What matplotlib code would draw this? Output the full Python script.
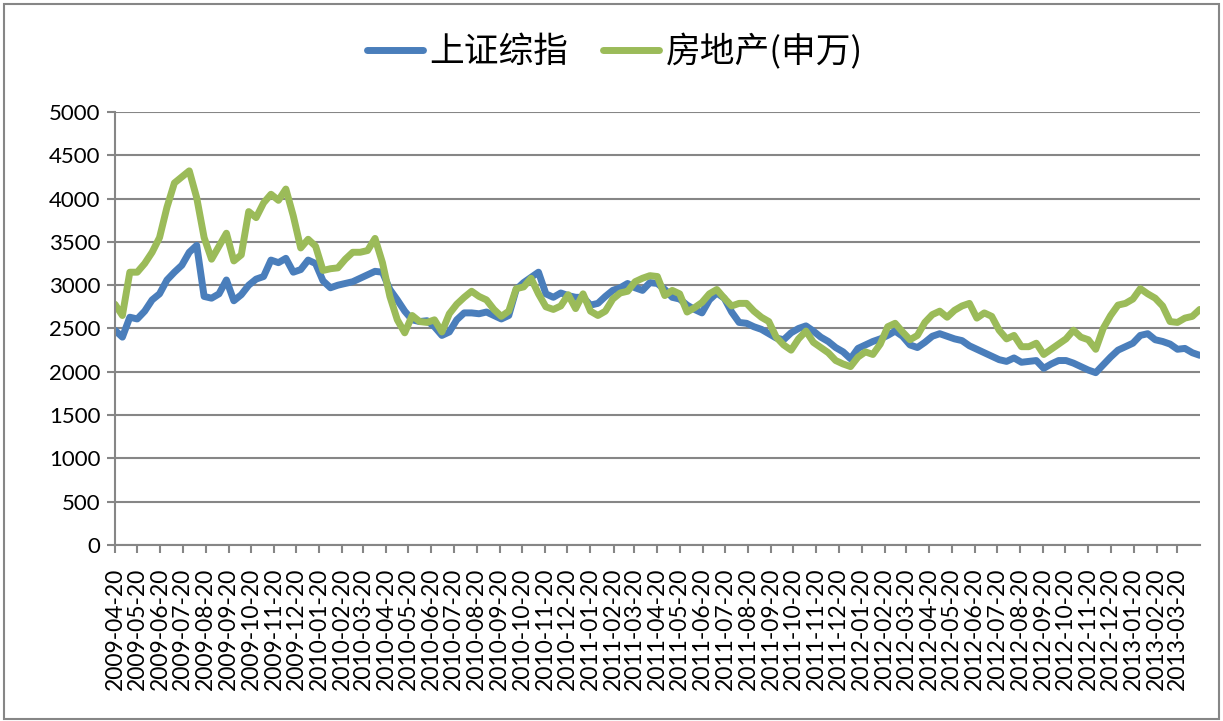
import matplotlib
matplotlib.use('Agg')
import matplotlib.pyplot as plt
import matplotlib.dates as mdates
import pandas as pd
from matplotlib.patches import Rectangle

plt.rcParams['font.family'] = ['Lato', 'Noto Sans CJK SC', 'DejaVu Sans']
plt.rcParams['lines.solid_capstyle'] = 'round'

# one reading every 10 days starting 2009-04-20
START = '2009-04-20'
STEP = '10D'

sh_composite = [
    2480, 2400, 2630, 2610, 2700, 2830, 2900, 3060, 3150, 3230,
    3380, 3460, 2870, 2850, 2900, 3060, 2820, 2890, 3000, 3070,
    3100, 3290, 3260, 3310, 3150, 3180, 3290, 3250, 3050, 2970,
    3000, 3020, 3040, 3080, 3120, 3160, 3150, 2950, 2830, 2700,
    2600, 2580, 2590, 2520, 2420, 2460, 2600, 2680, 2680, 2670,
    2690, 2650, 2610, 2650, 2950, 3030, 3090, 3150, 2900, 2860,
    2910, 2880, 2860, 2860, 2770, 2790, 2870, 2940, 2970, 3020,
    2970, 2940, 3030, 3020, 2950, 2860, 2840, 2770, 2720, 2680,
    2830, 2910, 2850, 2690, 2570, 2560, 2520, 2490, 2440, 2390,
    2370, 2450, 2500, 2530, 2470, 2400, 2350, 2280, 2230, 2150,
    2270, 2310, 2350, 2380, 2420, 2470, 2410, 2310, 2280, 2340,
    2410, 2440, 2410, 2380, 2360, 2300, 2260, 2220, 2180, 2140,
    2120, 2160, 2110, 2120, 2130, 2040, 2090, 2130, 2130, 2100,
    2060, 2020, 1990, 2080, 2170, 2250, 2290, 2330, 2420, 2440,
    2370, 2350, 2320, 2260, 2270, 2220, 2190,
]

real_estate = [
    2780, 2650, 3150, 3150, 3250, 3380, 3550, 3900, 4180, 4250,
    4320, 4010, 3550, 3300, 3450, 3600, 3280, 3350, 3850, 3780,
    3950, 4050, 3980, 4110, 3800, 3430, 3530, 3450, 3170, 3190,
    3200, 3300, 3380, 3380, 3400, 3540, 3260, 2870, 2600, 2450,
    2650, 2580, 2570, 2600, 2460, 2670, 2780, 2860, 2930, 2870,
    2830, 2720, 2640, 2700, 2960, 2980, 3080, 2900, 2750, 2720,
    2760, 2890, 2730, 2900, 2700, 2650, 2700, 2840, 2910, 2930,
    3040, 3080, 3110, 3100, 2880, 2940, 2900, 2690, 2740, 2800,
    2900, 2950, 2850, 2760, 2790, 2790, 2700, 2630, 2580, 2400,
    2310, 2250, 2380, 2470, 2340, 2280, 2220, 2130, 2090, 2060,
    2170, 2230, 2200, 2320, 2520, 2560, 2460, 2370, 2420, 2570,
    2660, 2700, 2630, 2710, 2760, 2790, 2620, 2680, 2640, 2480,
    2380, 2420, 2290, 2290, 2330, 2200, 2260, 2320, 2380, 2480,
    2400, 2370, 2260, 2500, 2650, 2770, 2790, 2840, 2960, 2900,
    2850, 2760, 2580, 2570, 2620, 2640, 2720,
]

series_names = ['上证综指', '房地产(申万)']
series_colors = ['#4A7EBB', '#9BBB59']

dates = pd.date_range(START, periods=len(sh_composite), freq=STEP)
tick_dates = pd.date_range('2009-04-20', '2013-03-20', freq=pd.DateOffset(months=1))

fig = plt.figure(figsize=(12.23, 7.21), dpi=100)
ax = fig.add_axes([0.094, 0.2441, 0.887, 0.6006])

ax.plot(dates, sh_composite, color=series_colors[0], lw=5, label=series_names[0])
ax.plot(dates, real_estate, color=series_colors[1], lw=5, label=series_names[1])

ax.set_xlim(dates[0], dates[-1])
ax.set_ylim(0, 5000)
ax.set_yticks(range(0, 5001, 500))
ax.set_xticks(tick_dates)
ax.xaxis.set_major_formatter(mdates.DateFormatter('%Y-%m-%d'))

ax.grid(axis='y', color='#868686', lw=1.5)
ax.set_axisbelow(True)
for side in ['top', 'right']:
    ax.spines[side].set_visible(False)
for side in ['left', 'bottom']:
    ax.spines[side].set_color('#868686')
    ax.spines[side].set_linewidth(1.5)

ax.tick_params(axis='both', colors='#868686', labelcolor='black', length=5.5, width=1.5)
ax.tick_params(axis='x', pad=11, labelrotation=90, labelsize=16.5)
ax.tick_params(axis='y', pad=5, labelsize=16)

fig.legend(loc='center', bbox_to_anchor=(0.503, 0.928), ncol=2, frameon=False,
           prop={'family': ['Noto Sans CJK SC', 'DejaVu Sans'], 'size': 25},
           handlelength=1.6, handletextpad=0.2, columnspacing=1.0)

# outer chart border
fig.add_artist(Rectangle((0.003, 0.003), 0.994, 0.992, transform=fig.transFigure,
                         fill=False, edgecolor='#868686', lw=1.5))

fig.savefig('out.png', dpi=100)
